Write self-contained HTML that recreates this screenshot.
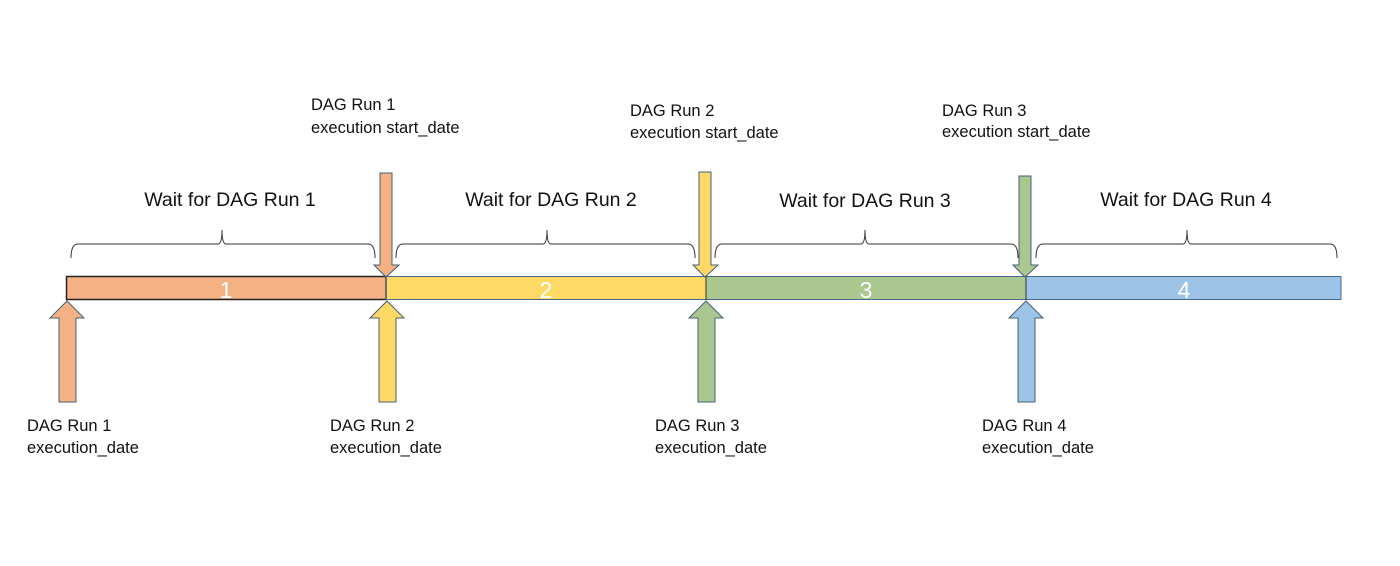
<!DOCTYPE html>
<html><head><meta charset="utf-8"><style>
html,body{margin:0;padding:0;background:#fff;}
svg{display:block;}
text{font-family:"Liberation Sans",sans-serif;}
</style></head><body>
<svg width="1400" height="566" viewBox="0 0 1400 566" xmlns="http://www.w3.org/2000/svg">
<rect x="66" y="276" width="320" height="24" fill="#F4B183"/>
<rect x="386" y="276" width="320" height="24" fill="#FFD966"/>
<rect x="706" y="276" width="320" height="24" fill="#A9C78F"/>
<rect x="1026" y="276" width="315" height="24" fill="#9DC3E6"/>
<rect x="66.5" y="276.5" width="319.5" height="23" fill="none" stroke="#222" stroke-width="1.5"/>
<rect x="386" y="276.5" width="955" height="23" fill="none" stroke="#4a6a8a" stroke-width="1"/>
<line x1="706" y1="276" x2="706" y2="300" stroke="#333" stroke-width="1"/>
<line x1="1026" y1="276" x2="1026" y2="300" stroke="#333" stroke-width="1"/>
<g fill="#fff" font-size="23" text-anchor="middle">
<text x="226" y="298">1</text><text x="546" y="298">2</text><text x="866" y="298">3</text><text x="1184" y="298">4</text>
</g>
<g fill="none" stroke="#333" stroke-width="1">
<path d="M71,258 Q71,244 78,244 L218,244 Q222,244 222,230 Q222,244 226,244 L368,244 Q375,244 375,258"/>
<path d="M396,258 Q396,244 403,244 L543,244 Q547,244 547,230 Q547,244 551,244 L688,244 Q695,244 695,258"/>
<path d="M715,258 Q715,244 722,244 L861,244 Q865,244 865,230 Q865,244 869,244 L1011,244 Q1018,244 1018,258"/>
<path d="M1036,258 Q1036,244 1043,244 L1183,244 Q1187,244 1187,230 Q1187,244 1191,244 L1330,244 Q1337,244 1337,258"/>
</g>
<g font-size="19.5" fill="#111" text-anchor="middle">
<text x="230" y="206">Wait for DAG Run 1</text>
<text x="551" y="206">Wait for DAG Run 2</text>
<text x="865" y="207">Wait for DAG Run 3</text>
<text x="1186" y="206">Wait for DAG Run 4</text>
</g>
<g stroke="#46607a" stroke-width="1">
<path d="M380,173 H392 V265 H399 L386,277 L374,265 H380 Z" fill="#F4B183"/>
<path d="M699,172 H711 V265 H718 L705,277 L693,265 H699 Z" fill="#FFD966"/>
<path d="M1019,176 H1031 V265 H1038 L1025,277 L1013,265 H1019 Z" fill="#A9C78F"/>
</g>
<g stroke="#46607a" stroke-width="1">
<path d="M59,402 V318 H50 L67,301 L84,318 H76 V402 Z" fill="#F4B183"/>
<path d="M379,402 V318 H370 L387,301 L404,318 H396 V402 Z" fill="#FFD966"/>
<path d="M698,402 V318 H689 L706,301 L723,318 H715 V402 Z" fill="#A9C78F"/>
<path d="M1018,402 V318 H1009 L1026,301 L1043,318 H1035 V402 Z" fill="#9DC3E6"/>
</g>
<g font-size="16.5" fill="#111">
<text x="311" y="110">DAG Run 1</text><text x="311" y="133">execution start_date</text>
<text x="630" y="116">DAG Run 2</text><text x="630" y="138">execution start_date</text>
<text x="942" y="116">DAG Run 3</text><text x="942" y="137">execution start_date</text>
<text x="27" y="431">DAG Run 1</text><text x="27" y="453">execution_date</text>
<text x="330" y="431">DAG Run 2</text><text x="330" y="453">execution_date</text>
<text x="655" y="431">DAG Run 3</text><text x="655" y="453">execution_date</text>
<text x="982" y="431">DAG Run 4</text><text x="982" y="453">execution_date</text>
</g>
</svg>
</body></html>
